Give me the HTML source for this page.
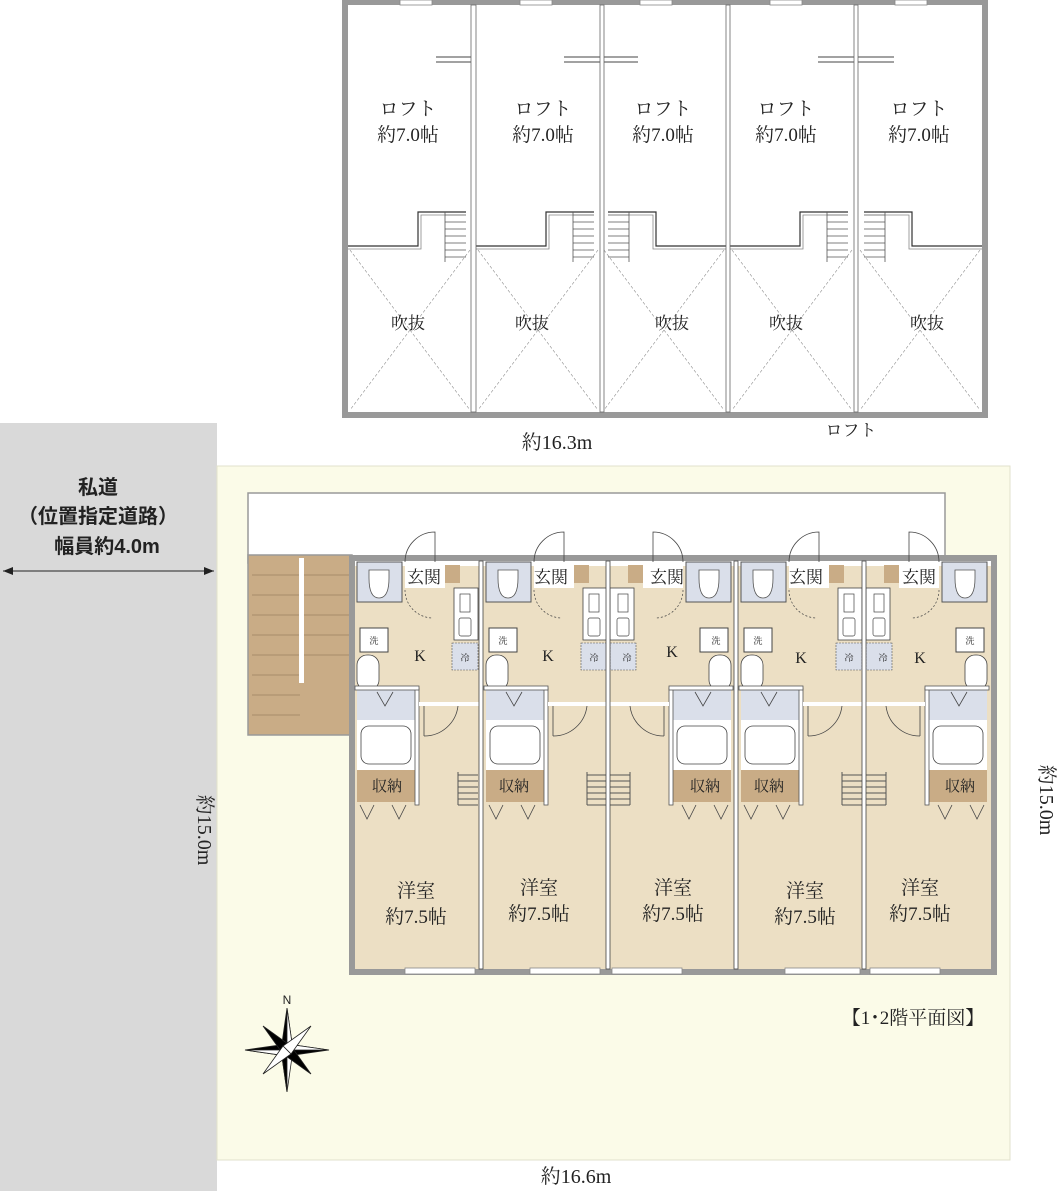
<!DOCTYPE html>
<html><head><meta charset="utf-8"><style>
html,body{margin:0;padding:0;background:#fff}
svg{display:block}
text{font-family:"Liberation Serif","Noto Serif CJK JP","Noto Serif CJK SC",serif;fill:#222}
.s{font-family:"Liberation Sans","Noto Sans CJK JP",sans-serif}
</style></head><body>
<svg width="1062" height="1200" viewBox="0 0 1062 1200" xmlns="http://www.w3.org/2000/svg">
<defs>
<g id="unit">
  <rect x="5" y="562" width="45" height="40" fill="#dadfea" stroke="#555" stroke-width="1"/>
  <path d="M17 570 h20 v8 c0 14 -4 20 -10 20 c-6 0 -10 -6 -10 -20z" fill="#fff" stroke="#555" stroke-width="0.8"/>
  <rect x="53" y="562" width="40" height="26" fill="#fff"/>
  <rect x="93" y="565" width="15" height="18" fill="#c9ac86"/>
  <path d="M53 562 A30 30 0 0 1 83 532 L83 562" fill="none" stroke="#444" stroke-width="0.8"/>
  <path d="M53 590 A28 28 0 0 0 81 618" fill="none" stroke="#444" stroke-width="0.7" stroke-dasharray="2 2"/>
  <rect x="102" y="588" width="24" height="52" fill="#fff" stroke="#444" stroke-width="0.8"/>
  <rect x="108" y="594" width="10" height="18" fill="#fff" stroke="#444" stroke-width="0.7"/>
  <rect x="107" y="618" width="12" height="18" rx="2" fill="#fff" stroke="#444" stroke-width="0.7"/>
  <rect x="100" y="643" width="26" height="27" fill="#dadfea" stroke="#555" stroke-width="0.6" stroke-dasharray="2 1"/>
  <rect x="8" y="628" width="28" height="24" fill="#fff" stroke="#444" stroke-width="1"/>
  <rect x="5" y="655" width="22" height="35" rx="10" fill="#fff" stroke="#444" stroke-width="0.8"/>
  <rect x="5" y="690" width="58" height="30" fill="#dadfea"/>
  <path d="M25 692 l8 14 l8 -14" fill="none" stroke="#444" stroke-width="0.8"/>
  <rect x="5" y="720" width="58" height="50" fill="#fff"/>
  <rect x="9" y="726" width="50" height="38" rx="8" fill="#fff" stroke="#444" stroke-width="0.8"/>
  <rect x="5" y="770" width="58" height="32" fill="#c9ac86"/>
  <path d="M8 805 l7 14 l7 -14 M40 805 l7 14 l7 -14" fill="none" stroke="#444" stroke-width="0.8"/>
  <rect x="63" y="688" width="4" height="117" fill="#fff" stroke="#555" stroke-width="0.8"/>
  <rect x="3" y="686" width="64" height="4" fill="#fff" stroke="#555" stroke-width="0.8"/>
  <rect x="67" y="702" width="61" height="4" fill="#fff"/>
  <path d="M72 706 v30 M72 736 A34 34 0 0 0 106 706" fill="none" stroke="#444" stroke-width="0.8"/>
  <g stroke="#555" stroke-width="1">
   <line x1="106" y1="775" x2="126" y2="775"/><line x1="106" y1="781" x2="126" y2="781"/>
   <line x1="106" y1="787" x2="126" y2="787"/><line x1="106" y1="793" x2="126" y2="793"/>
   <line x1="106" y1="799" x2="126" y2="799"/><line x1="106" y1="805" x2="126" y2="805"/>
   <line x1="106" y1="772" x2="106" y2="805"/>
  </g>
</g>
<g id="loft">
  <path d="M0 246 H70 V212 H118" fill="none" stroke="#333" stroke-width="1.2"/>
  <path d="M0 249 H73 V215 H97" fill="none" stroke="#888" stroke-width="0.8"/>
  <g stroke="#555" stroke-width="0.8">
   <line x1="97" y1="215" x2="118" y2="215"/><line x1="97" y1="222" x2="118" y2="222"/>
   <line x1="97" y1="229" x2="118" y2="229"/><line x1="97" y1="236" x2="118" y2="236"/>
   <line x1="97" y1="243" x2="118" y2="243"/><line x1="97" y1="250" x2="118" y2="250"/>
   <line x1="97" y1="257" x2="118" y2="257"/><line x1="97" y1="212" x2="97" y2="262"/>
  </g>
  <line x1="88" y1="57" x2="124" y2="57" stroke="#444" stroke-width="1"/>
  <line x1="88" y1="62" x2="124" y2="62" stroke="#444" stroke-width="1"/>
  <path d="M2 250 L122 410 M122 250 L2 410" stroke="#888" stroke-width="0.6" stroke-dasharray="3 2"/>
</g>
</defs>

<rect x="0" y="423" width="217" height="768" fill="#d9d9d9"/>
<text class="s" x="98" y="494" font-size="20" font-weight="bold" text-anchor="middle">私道</text>
<text class="s" x="98" y="523" font-size="20" font-weight="bold" text-anchor="middle">（位置指定道路）</text>
<text class="s" x="107" y="553" font-size="20" font-weight="bold" text-anchor="middle">幅員約4.0m</text>
<line x1="3" y1="571" x2="214" y2="571" stroke="#222" stroke-width="1"/>
<path d="M3 571 l10 -4 v8z M214 571 l-10 -4 v8z" fill="#222"/>

<rect x="217" y="466" width="793" height="694" fill="#fbfbe8" stroke="#e2e2cc"/>

<rect x="342" y="0" width="646" height="418" fill="#999"/>
<rect x="348" y="5" width="634" height="407" fill="#fff"/>
<g fill="#fff" stroke="#888" stroke-width="0.8">
 <rect x="400" y="0" width="32" height="5"/><rect x="520" y="0" width="32" height="5"/>
 <rect x="640" y="0" width="32" height="5"/><rect x="770" y="0" width="32" height="5"/>
 <rect x="895" y="0" width="32" height="5"/>
</g>
<use href="#loft" transform="translate(348,0)"/>
<use href="#loft" transform="translate(476,0)"/>
<use href="#loft" transform="translate(726,0) scale(-1,1)"/>
<use href="#loft" transform="translate(730,0)"/>
<use href="#loft" transform="translate(982,0) scale(-1,1)"/>
<g fill="#fff" stroke="#666" stroke-width="0.8">
 <rect x="471" y="5" width="5" height="407"/><rect x="600" y="5" width="4" height="407"/>
 <rect x="726" y="5" width="4" height="407"/><rect x="854" y="5" width="4" height="407"/>
</g>
<g font-size="19" text-anchor="middle">
 <text x="408" y="115">ロフト</text><text x="408" y="141">約7.0帖</text>
 <text x="543" y="115">ロフト</text><text x="543" y="141">約7.0帖</text>
 <text x="663" y="115">ロフト</text><text x="663" y="141">約7.0帖</text>
 <text x="786" y="115">ロフト</text><text x="786" y="141">約7.0帖</text>
 <text x="919" y="115">ロフト</text><text x="919" y="141">約7.0帖</text>
 <text x="408" y="329" font-size="17">吹抜</text><text x="532" y="329" font-size="17">吹抜</text><text x="672" y="329" font-size="17">吹抜</text>
 <text x="786" y="329" font-size="17">吹抜</text><text x="927" y="329" font-size="17">吹抜</text>
</g>
<text x="557" y="449" font-size="20" text-anchor="middle">約16.3m</text>
<text x="851" y="436" font-size="17" text-anchor="middle">ロフト</text>

<rect x="248" y="493" width="697" height="70" fill="#fff" stroke="#999" stroke-width="1.5"/>
<rect x="248" y="555" width="104" height="180" fill="#c9ac86" stroke="#999" stroke-width="1.5"/>
<g stroke="#9b8060" stroke-width="0.8">
 <line x1="252" y1="575" x2="350" y2="575"/><line x1="252" y1="595" x2="350" y2="595"/>
 <line x1="252" y1="615" x2="350" y2="615"/><line x1="252" y1="635" x2="350" y2="635"/>
 <line x1="252" y1="655" x2="350" y2="655"/><line x1="252" y1="675" x2="300" y2="675"/>
 <line x1="252" y1="695" x2="300" y2="695"/><line x1="252" y1="715" x2="300" y2="715"/>
</g>
<rect x="299" y="558" width="5" height="125" fill="#fff"/>

<rect x="349" y="555" width="648" height="420" fill="#999"/>
<rect x="355" y="561" width="636" height="408" fill="#ecdfc4"/>
<rect x="355" y="561" width="636" height="5" fill="#fff"/>
<use href="#unit" transform="translate(352,0)"/>
<use href="#unit" transform="translate(481,0)"/>
<use href="#unit" transform="translate(736,0) scale(-1,1)"/>
<use href="#unit" transform="translate(736,0)"/>
<use href="#unit" transform="translate(992,0) scale(-1,1)"/>
<g fill="#fff" stroke="#444" stroke-width="0.8">
 <rect x="479" y="561" width="4" height="408"/><rect x="606" y="561" width="4" height="408"/>
 <rect x="734" y="561" width="4" height="408"/><rect x="862" y="561" width="4" height="408"/>
</g>
<g fill="#fff" stroke="#888" stroke-width="0.8">
 <rect x="405" y="968" width="70" height="6"/><rect x="530" y="968" width="70" height="6"/>
 <rect x="612" y="968" width="70" height="6"/><rect x="785" y="968" width="75" height="6"/>
 <rect x="870" y="968" width="70" height="6"/>
</g>
<g font-size="17" text-anchor="middle">
 <text x="424" y="583">玄関</text><text x="551" y="583">玄関</text><text x="667" y="583">玄関</text>
 <text x="806" y="583">玄関</text><text x="919" y="583">玄関</text>
 <text x="420" y="661" font-size="16">K</text><text x="548" y="661" font-size="16">K</text>
 <text x="672" y="657" font-size="16">K</text><text x="801" y="663" font-size="16">K</text>
 <text x="920" y="663" font-size="16">K</text>
 <text x="387" y="791" font-size="15">収納</text><text x="514" y="791" font-size="15">収納</text>
 <text x="705" y="791" font-size="15">収納</text><text x="769" y="791" font-size="15">収納</text>
 <text x="960" y="791" font-size="15">収納</text>
</g>
<g font-size="19" text-anchor="middle">
 <text x="416" y="897">洋室</text><text x="416" y="923">約7.5帖</text>
 <text x="539" y="894">洋室</text><text x="539" y="920">約7.5帖</text>
 <text x="673" y="894">洋室</text><text x="673" y="920">約7.5帖</text>
 <text x="805" y="897">洋室</text><text x="805" y="923">約7.5帖</text>
 <text x="920" y="894">洋室</text><text x="920" y="920">約7.5帖</text>
</g>
<g font-size="9" text-anchor="middle" fill="#444">
 <text x="374" y="644">洗</text><text x="503" y="644">洗</text><text x="716" y="644">洗</text>
 <text x="758" y="644">洗</text><text x="970" y="644">洗</text>
 <text x="465" y="661">冷</text><text x="594" y="661">冷</text><text x="627" y="661">冷</text>
 <text x="849" y="661">冷</text><text x="883" y="661">冷</text>
</g>

<text x="198" y="830" font-size="20" text-anchor="middle" transform="rotate(90 198 830)">約15.0m</text>
<text x="1040" y="800" font-size="20" text-anchor="middle" transform="rotate(90 1040 800)">約15.0m</text>
<text x="576" y="1183" font-size="20" text-anchor="middle">約16.6m</text>
<text x="913" y="1024" font-size="19" text-anchor="middle">【1･2階平面図】</text>

<text class="s" x="287" y="1004" font-size="12" text-anchor="middle">N</text>
<g transform="translate(287,1050)" stroke="#222" stroke-width="0.8">
 <path d="M0 -42 L6 0 L-6 0Z" fill="#000"/><path d="M0 42 L6 0 L-6 0Z" fill="#fff"/>
 <path d="M0 42 L-6 0 L0 0Z" fill="#000"/><path d="M0 -42 L6 0 L0 0Z" fill="#fff"/>
 <path d="M-42 0 L0 -6 L0 6Z" fill="#000"/><path d="M42 0 L0 6 L0 -6Z" fill="#000"/>
 <path d="M-42 0 L0 6 L0 0Z" fill="#fff"/><path d="M42 0 L0 -6 L0 0Z" fill="#fff"/>
 <path d="M-24 -24 L4 -4 L-4 4Z" fill="#000"/><path d="M24 24 L-4 4 L4 -4Z" fill="#000"/>
 <path d="M24 -24 L4 4 L-4 -4Z" fill="#fff"/><path d="M-24 24 L-4 -4 L4 4Z" fill="#fff"/>
</g>
</svg>
</body></html>
